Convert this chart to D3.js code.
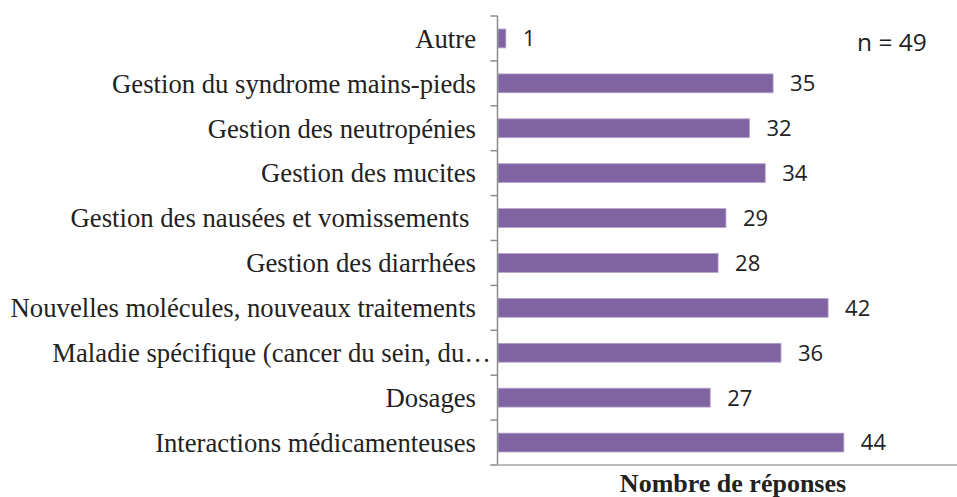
<!DOCTYPE html>
<html>
<head>
<meta charset="utf-8">
<script src="https://cdn.jsdelivr.net/npm/d3@7"></script>
<style>
  html, body { margin: 0; padding: 0; background: #fff; }
  svg { display: block; }
</style>
</head>
<body>
<svg id="chart" width="957" height="497"></svg>
<script>
// Formations souhaitées — nombre de réponses par thème
const categories = [
  "Autre",
  "Gestion du syndrome mains-pieds",
  "Gestion des neutropénies",
  "Gestion des mucites",
  "Gestion des nausées et vomissements ",
  "Gestion des diarrhées",
  "Nouvelles molécules, nouveaux traitements",
  "Maladie spécifique (cancer du sein, du…",
  "Dosages",
  "Interactions médicamenteuses"
];
const counts = [1, 35, 32, 34, 29, 28, 42, 36, 27, 44];
const axisTitle = "Nombre de réponses";
const sampleNote = "n = 49";

const svg = d3.select("#chart");
const axisX = 497.5;
const plotTop = 16, plotBottom = 465;

const x = d3.scaleLinear().domain([0, 50]).range([axisX + 0.5, axisX + 0.5 + 393]);
const y = d3.scaleBand().domain(categories).range([plotTop, plotBottom]).paddingInner(0.58).paddingOuter(0.29);
const step = (plotBottom - plotTop) / categories.length;

// bars
svg.append("g").selectAll("rect")
  .data(categories)
  .join("rect")
  .attr("x", x(0))
  .attr("y", d => y(d))
  .attr("width", (d, i) => x(counts[i]) - x(0))
  .attr("height", y.bandwidth())
  .attr("fill", "#8064a2")
  .attr("stroke", "#b4a2ca")
  .attr("stroke-width", 0.8);

// value labels
svg.append("g").selectAll("text")
  .data(categories)
  .join("text")
  .attr("x", (d, i) => x(counts[i]) + 17)
  .attr("y", d => y(d) + y.bandwidth() / 2)
  .attr("dy", "0.36em")
  .attr("font-family", "'Open Sans', sans-serif")
  .attr("font-size", 22)
  .attr("fill", "#222")
  .text((d, i) => counts[i]);

// category axis with outward ticks at band boundaries
const axisG = svg.append("g");
axisG.append("line")
  .attr("x1", axisX).attr("x2", axisX)
  .attr("y1", plotTop).attr("y2", plotBottom)
  .attr("stroke", "#8c8c8c").attr("stroke-width", 1.5);
axisG.selectAll("line.tick")
  .data(d3.range(categories.length + 1))
  .join("line")
  .attr("class", "tick")
  .attr("x1", axisX - 7).attr("x2", axisX)
  .attr("y1", i => plotTop + i * step).attr("y2", i => plotTop + i * step)
  .attr("stroke", "#8c8c8c").attr("stroke-width", 1.5);

// bottom baseline
svg.append("line")
  .attr("x1", axisX - 7).attr("x2", 957)
  .attr("y1", plotBottom).attr("y2", plotBottom)
  .attr("stroke", "#a6a6a6").attr("stroke-width", 1.5);

// category labels
svg.append("g").selectAll("text")
  .data(categories)
  .join("text")
  .attr("x", (d, i) => i === 7 ? 491 : 476)
  .attr("y", d => y(d) + y.bandwidth() / 2)
  .attr("dy", "0.35em")
  .attr("text-anchor", "end")
  .attr("font-family", "'Liberation Serif', 'Times New Roman', serif")
  .attr("font-size", 26.7)
  .attr("fill", "#222")
  .style("white-space", "pre")
  .text(d => d);

// sample size
svg.append("text")
  .attr("x", 857).attr("y", 42)
  .attr("dy", "0.36em")
  .attr("font-family", "'Open Sans', sans-serif")
  .attr("font-size", 24.5)
  .attr("fill", "#222")
  .text(sampleNote);

// axis title
svg.append("text")
  .attr("x", 733).attr("y", 492)
  .attr("text-anchor", "middle")
  .attr("font-family", "'Liberation Serif', 'Times New Roman', serif")
  .attr("font-weight", "bold")
  .attr("font-size", 26)
  .attr("fill", "#222")
  .text(axisTitle);
</script>
</body>
</html>
